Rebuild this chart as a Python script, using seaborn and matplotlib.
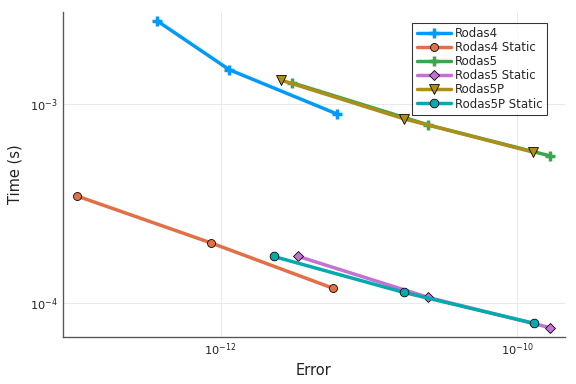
import numpy as np
import pandas as pd
import seaborn as sns
import matplotlib.pyplot as plt
from matplotlib.ticker import LogFormatterMathtext, NullLocator

# work-precision data (error, time in s)
rodas4_err = [3.72e-13, 1.14e-12, 6.07e-12]
rodas4_time = [2.62e-3, 1.49e-3, 8.93e-4]
rodas4s_err = [1.07e-13, 8.6e-13, 5.72e-12]
rodas4s_time = [3.46e-4, 2.01e-4, 1.19e-4]
rodas5_err = [3.03e-12, 2.5e-11, 1.66e-10]
rodas5_time = [1.28e-3, 7.87e-4, 5.5e-4]
rodas5s_err = [3.33e-12, 2.51e-11, 1.67e-10]
rodas5s_time = [1.72e-4, 1.07e-4, 7.54e-5]
rodas5p_err = [2.55e-12, 1.72e-11, 1.27e-10]
rodas5p_time = [1.32e-3, 8.44e-4, 5.75e-4]
rodas5ps_err = [2.27e-12, 1.71e-11, 1.29e-10]
rodas5ps_time = [1.72e-4, 1.135e-4, 7.94e-5]

names = ['Rodas4', 'Rodas4 Static', 'Rodas5', 'Rodas5 Static', 'Rodas5P', 'Rodas5P Static']
errs = [rodas4_err, rodas4s_err, rodas5_err, rodas5s_err, rodas5p_err, rodas5ps_err]
times = [rodas4_time, rodas4s_time, rodas5_time, rodas5s_time, rodas5p_time, rodas5ps_time]
colors = ['#009AFA', '#E36F47', '#3EA44E', '#C371D2', '#AC8E18', '#00AAAE']
markers = ['+', 'o', '+', 'D', 'v', 'o']
msizes = [8, 6, 8, 5, 7, 6.5]

sns.set_style('white')
plt.rcParams['font.family'] = ['DejaVu Sans']

fig = plt.figure(figsize=(6, 4), dpi=96)
ax = fig.add_axes([0.109, 0.123, 0.872, 0.847])

for name, e, t, c, m, ms in zip(names, errs, times, colors, markers, msizes):
    df = pd.DataFrame({'Error': e, 'Time': t})
    if m == '+':
        edge, mew = c, 2.6
    else:
        edge, mew = 'black', 0.6
    sns.lineplot(data=df, x='Error', y='Time', ax=ax, color=c, linewidth=2.6,
                 marker=m, markersize=ms, markeredgecolor=edge, markeredgewidth=mew,
                 sort=False, label=name)

ax.set_xscale('log')
ax.set_yscale('log')
ax.set_xlim(10**-13.065, 10**-9.678)
ax.set_ylim(10**-4.168, 10**-2.535)
ax.set_xticks([1e-12, 1e-10])
ax.set_yticks([1e-4, 1e-3])
ax.xaxis.set_major_formatter(LogFormatterMathtext())
ax.yaxis.set_major_formatter(LogFormatterMathtext())
ax.xaxis.set_minor_locator(NullLocator())
ax.yaxis.set_minor_locator(NullLocator())
ax.tick_params(axis='both', direction='in', length=4, width=0.8, colors='black',
               labelsize=8.5, labelcolor='#222222')
ax.grid(True, color='#e8e8e8', linewidth=0.7)
for side in ['top', 'right']:
    ax.spines[side].set_visible(False)
for side in ['left', 'bottom']:
    ax.spines[side].set_color('#555555')
    ax.spines[side].set_linewidth(1.0)

ax.set_xlabel('Error', fontsize=11, color='#222222')
ax.set_ylabel('Time (s)', fontsize=11, color='#222222', labelpad=6)

leg = ax.legend(loc='upper right', bbox_to_anchor=(0.964, 0.966), fontsize=8.8,
                frameon=True, fancybox=False, borderpad=0.35, labelspacing=0.1,
                handlelength=2.9, handletextpad=0.4, borderaxespad=0)
leg.get_frame().set_edgecolor('black')
leg.get_frame().set_linewidth(0.8)

fig.savefig('out.png', dpi=96)
